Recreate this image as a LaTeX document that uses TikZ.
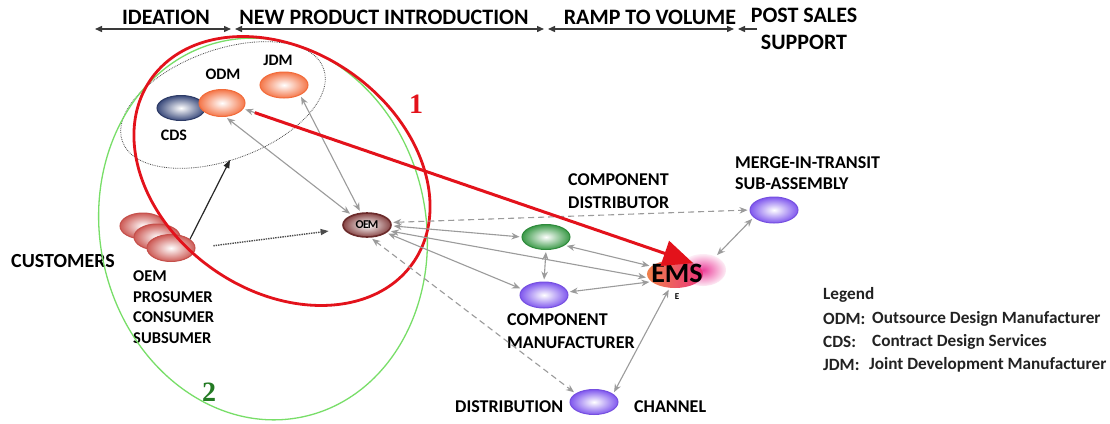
\documentclass[tikz,border=0pt]{standalone}
\usepackage{fontspec}
\setmainfont{Carlito}
\newfontfamily\numfont{Liberation Serif}
\usetikzlibrary{arrows.meta,shapes.geometric}

\definecolor{linkgray}{HTML}{9B9B9B}
\definecolor{phasegray}{HTML}{3A3A3A}
\definecolor{redring}{HTML}{E3121B}
\definecolor{greenring}{HTML}{78DE68}
\definecolor{greennum}{HTML}{237A23}
\definecolor{odmedge}{HTML}{F26B3A}
\definecolor{odmfill}{HTML}{F4774A}
\definecolor{cdsedge}{HTML}{2D3B66}
\definecolor{cdsfill}{HTML}{3B4B7C}
\definecolor{custedge}{HTML}{C54F4A}
\definecolor{custfill}{HTML}{CD5C57}
\definecolor{oemedge}{HTML}{6B2B2B}
\definecolor{oemfill}{HTML}{874545}
\definecolor{cdedge}{HTML}{2F8A3C}
\definecolor{cdfill}{HTML}{3B9A48}
\definecolor{purpedge}{HTML}{7650E0}
\definecolor{purpfill}{HTML}{8058EE}
\definecolor{emsorange}{HTML}{F0804A}
\definecolor{emsmagenta}{HTML}{E8208A}
\definecolor{legendtext}{HTML}{222222}

\begin{document}
\begin{tikzpicture}[x=1pt,y=-1pt,
  blob/.style={ellipse, minimum width=48pt, minimum height=25pt, inner sep=0pt, line width=1pt},
  orangeblob/.style={blob, draw=odmedge, inner color=white, outer color=odmfill},
  cdsblob/.style={blob, draw=cdsedge, inner color=white, outer color=cdsfill},
  custblob/.style={blob, minimum width=46pt, minimum height=26pt, draw=custedge, inner color=white, outer color=custfill},
  oemblob/.style={blob, minimum height=24pt, draw=oemedge, line width=1.6pt, inner color=white, outer color=oemfill},
  greenblob/.style={blob, draw=cdedge, inner color=white, outer color=cdfill},
  purpblob/.style={blob, draw=purpedge, inner color=white, outer color=purpfill},
  lbl/.style={font=\bfseries\fontsize{18}{22.5}\selectfont, align=left, inner sep=0pt, anchor=west},
  small lbl/.style={font=\bfseries\fontsize{16}{18}\selectfont, inner sep=0pt},
  phase lbl/.style={font=\bfseries\fontsize{22}{27}\selectfont, inner sep=0pt, align=center},
  legend lbl/.style={font=\bfseries\fontsize{17.2}{20}\selectfont, text=legendtext, inner sep=0pt, anchor=west},
  phase/.style={draw=phasegray, line width=1.4pt, <->, >={Triangle[length=7pt,width=6pt]}},
  link/.style={draw=linkgray, line width=1.1pt, <->, >={Stealth[length=8pt,width=6.5pt]}, shorten <=2pt, shorten >=2pt},
  dlink/.style={link, dash pattern=on 6pt off 4pt},
]
\useasboundingbox (0,0) rectangle (1110,423);
\fill[white] (0,0) rectangle (1110,423);

% ---- life-cycle phases along the top
\coordinate (p0) at (95,29);
\coordinate (p1) at (231,29);
\coordinate (p2) at (235,29);
\coordinate (p3) at (544,29);
\coordinate (p4) at (548,29);
\coordinate (p5) at (734,29);
\coordinate (p6) at (738,29);
\coordinate (p7) at (757,29);
\draw[phase] (p0) -- (p1);
\draw[phase] (p2) -- (p3);
\draw[phase] (p4) -- (p5);
\draw[draw=phasegray, line width=1.4pt, ->, >={Triangle[length=7pt,width=6pt]}] (p7) -- (p6);
\node[phase lbl] (tidea) at (166,17) {IDEATION};
\node[phase lbl] (tnpi) at (384,17) {NEW PRODUCT INTRODUCTION};
\node[phase lbl] (tramp) at (650,17) {RAMP TO VOLUME};
\node[phase lbl] (tpost) at (804,29) {POST SALES\\SUPPORT};

% ---- design partners
\node[cdsblob] (cds) at (181,108) {};
\node[orangeblob, minimum width=46pt, minimum height=27pt] (odm) at (222,103) {};
\node[orangeblob, minimum height=26pt] (jdm) at (284,85) {};
\node[small lbl] (odmlbl) at (223,74) {ODM};
\node[small lbl] (jdmlbl) at (278,60) {JDM};
\node[small lbl] (cdslbl) at (174,135) {CDS};

% ---- customers
\node[custblob] (c1) at (143,226) {};
\node[custblob] (c2) at (157,237) {};
\node[custblob, minimum width=48pt, minimum height=27pt] (c3) at (171,248) {};
\node[font=\bfseries\fontsize{20}{24}\selectfont, inner sep=0pt] (customers) at (63,261) {CUSTOMERS};
\node[font=\bfseries\fontsize{16.5}{20.5}\selectfont, align=left, inner sep=0pt, anchor=west] (custtypes) at (133,307) {OEM\\PROSUMER\\CONSUMER\\SUBSUMER};

% ---- supply chain
\node[oemblob] (oem) at (367,225) {\fontsize{12}{12}\selectfont\bfseries O\kern-0.5pt E\kern-1pt M};
\node[greenblob] (cdist) at (546,237) {};
\node[purpblob, minimum height=26pt] (cmfr) at (544,295) {};
\node[purpblob, minimum height=26pt] (mit) at (774,210) {};
\node[purpblob] (dist) at (594,402) {};
\node[ellipse, minimum width=46pt, minimum height=32pt, inner sep=0pt, inner color=emsmagenta!85, outer color=emsmagenta!8] (emsglow) at (703,270) {};
\node[ellipse, minimum width=56pt, minimum height=28pt, inner sep=0pt, left color=emsorange, right color=emsmagenta!80!emsorange] (ems) at (675,274) {};
\node[font=\bfseries\fontsize{28}{28}\selectfont, inner sep=0pt] (emstext) at (677,273) {EMS};
\node[font=\bfseries\fontsize{9}{9}\selectfont, inner sep=0pt] (emssub) at (677,297) {E};

\node[lbl] (cdistlbl) at (568,191) {COMPONENT\\DISTRIBUTOR};
\node[lbl] (cmfrlbl) at (507,331) {COMPONENT\\MANUFACTURER};
\node[lbl, font=\bfseries\fontsize{18}{20.5}\selectfont] (mitlbl) at (735,173) {MERGE-IN-TRANSIT\\SUB-ASSEMBLY};
\node[lbl] (distlbl) at (455,407) {DISTRIBUTION};
\node[lbl] (chanlbl) at (634,407) {CHANNEL};

% ---- groupings
\draw[densely dotted, draw=black!70, line width=0.8pt, rotate around={20:(223,105)}] (223,105) ellipse [x radius=107, y radius=55];
\draw[greenring, line width=1.3pt, rotate around={12:(263,229)}] (263,229) ellipse [x radius=163, y radius=192];
\draw[redring, line width=2.8pt, rotate around={-35:(282,171)}] (282,171) ellipse [x radius=160, y radius=120];
\node[font=\numfont\bfseries\fontsize{28}{28}\selectfont, text=redring, inner sep=0pt] (one) at (416,104) {1};
\node[font=\numfont\bfseries\fontsize{28}{28}\selectfont, text=greennum, inner sep=0pt] (two) at (209,392) {2};

% ---- flows
\coordinate (ideafoot) at (230,160);
\draw[black!85, line width=1.2pt, -{Triangle[length=8pt,width=6pt]}] (c3.25) -- (ideafoot);
\draw[black!70, densely dotted, line width=1.4pt, -{Triangle[length=8pt,width=6pt]}, shorten <=18pt, shorten >=15pt] (c3.0) -- (oem.190);

\draw[link] (odm.-76) -- (oem.147);
\draw[link] (jdm.-32) -- (oem.117);
\draw[dlink] (oem.6) -- (mit.180);
\draw[link] (oem.-2) -- (cdist.180);
\draw[link] (oem.-15) -- (ems.188);
\draw[link] (oem.-22) -- (cmfr.165);
\draw[dlink] (oem.-74) -- (dist.155);
\draw[link] (cdist.-24) -- (ems.162);
\draw[link] (cdist.-90) -- (cmfr.90);
\draw[link] (cmfr.7) -- (ems.198);
\draw[link] (emsglow.47) -- (mit.200);
\draw[link] (ems.-111) -- (dist.23);

% design outsourcing to the EMS
\draw[linkgray, line width=1.1pt, <-, >={Stealth[length=8pt,width=6.5pt]}, shorten <=2pt] (odm.-15) -- (ems.31);
\draw[redring, line width=3pt, -{Triangle[length=30pt,width=26pt]}, shorten <=12pt] (odm.-15) -- (ems.31);

% ---- legend
\node[legend lbl] (leg) at (823,295) {Legend};
\node[legend lbl] (legodm) at (823,319) {ODM:};
\node[legend lbl] (legcds) at (823,342) {CDS:};
\node[legend lbl] (legjdm) at (823,365) {JDM:};
\node[legend lbl] (legodmt) at (872,319) {Outsource Design Manufacturer};
\node[legend lbl] (legcdst) at (872,342) {Contract Design Services};
\node[legend lbl] (legjdmt) at (869,365) {Joint Development Manufacturer};
\end{tikzpicture}
\end{document}
